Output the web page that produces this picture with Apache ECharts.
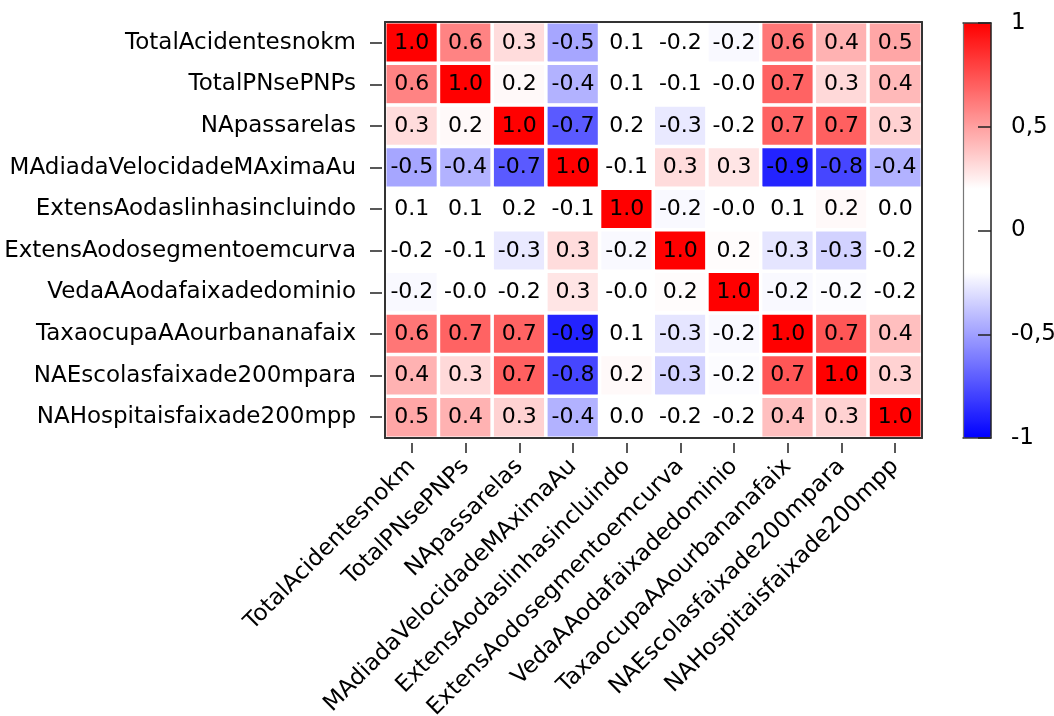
<!DOCTYPE html>
<html>
<head>
<meta charset="utf-8">
<script src="https://cdn.jsdelivr.net/npm/echarts@6/dist/echarts.min.js"></script>
<style>html,body{margin:0;padding:0;background:#fff;}#c{width:1054px;height:716px;}</style>
</head>
<body>
<div id="c"></div>
<script>
const variables = [
  'TotalAcidentesnokm','TotalPNsePNPs','NApassarelas','MAdiadaVelocidadeMAximaAu',
  'ExtensAodaslinhasincluindo','ExtensAodosegmentoemcurva','VedaAAodafaixadedominio',
  'TaxaocupaAAourbananafaix','NAEscolasfaixade200mpara','NAHospitaisfaixade200mpp'
];
const row1  = [1.00, 0.59, 0.31, -0.48, 0.08, -0.17, -0.22, 0.63, 0.44, 0.48];
const row2  = [0.59, 1.00, 0.22, -0.44, 0.10, -0.12, -0.03, 0.69, 0.32, 0.42];
const row3  = [0.31, 0.22, 1.00, -0.72, 0.18, -0.27, -0.19, 0.69, 0.70, 0.34];
const row4  = [-0.48, -0.44, -0.72, 1.00, -0.10, 0.31, 0.28, -0.89, -0.78, -0.44];
const row5  = [0.08, 0.10, 0.18, -0.10, 1.00, -0.22, -0.02, 0.12, 0.22, 0.03];
const row6  = [-0.17, -0.12, -0.27, 0.31, -0.22, 1.00, 0.21, -0.28, -0.34, -0.18];
const row7  = [-0.22, -0.03, -0.19, 0.28, -0.02, 0.21, 1.00, -0.22, -0.21, -0.19];
const row8  = [0.63, 0.69, 0.69, -0.89, 0.12, -0.28, -0.22, 1.00, 0.73, 0.40];
const row9  = [0.44, 0.32, 0.70, -0.78, 0.22, -0.34, -0.21, 0.73, 1.00, 0.34];
const row10 = [0.48, 0.44, 0.34, -0.44, 0.03, -0.18, -0.19, 0.40, 0.34, 1.00];
const matrix = [row1,row2,row3,row4,row5,row6,row7,row8,row9,row10];
const colorTicks = [-1, -0.5, 0, 0.5, 1];

const data = [];
matrix.forEach((r, i) => r.forEach((v, j) => data.push([j, i, v])));

const FONT = 'DejaVu Sans';
const EDGE = {color: '#3a3a3a', width: 1.5};
const BOX = {color: '#333', width: 2};
function frameAxis(gridIndex, position, line) {
  return {type: 'value', gridIndex: gridIndex, position: position, min: 0, max: 1, z: 10, offset: 0,
          axisLine: {show: true, onZero: false, lineStyle: line},
          axisTick: {show: false}, axisLabel: {show: false}, splitLine: {show: false}};
}
const chart = echarts.init(document.getElementById('c'));
chart.setOption({
  animation: false,
  backgroundColor: '#fff',
  grid: [
    {left: 385, top: 22, width: 537, height: 416, show: false, containLabel: false, outerBoundsMode: 'none'},
    {left: 963, top: 23, width: 28, height: 415, show: false, containLabel: false, outerBoundsMode: 'none'}
  ],
  xAxis: [
    {type: 'category', data: variables, gridIndex: 0, position: 'bottom', offset: 5,
     axisLine: {show: false, onZero: false},
     axisTick: {show: true, alignWithLabel: true, length: 10, lineStyle: {color: '#222', width: 1.5}},
     axisLabel: {rotate: 45, margin: 20, color: '#000', fontFamily: FONT, fontSize: 23},
     splitLine: {show: false}, splitArea: {show: false}},
    frameAxis(1, 'bottom', EDGE),
    frameAxis(1, 'top', EDGE),
    frameAxis(0, 'top', BOX),
    frameAxis(0, 'bottom', BOX)
  ],
  yAxis: [
    {type: 'category', data: variables, gridIndex: 0, inverse: true, offset: 3,
     axisLine: {show: false, onZero: false},
     axisTick: {show: true, alignWithLabel: true, length: 12, lineStyle: {color: '#222', width: 1.5}},
     axisLabel: {margin: 26, color: '#000', fontFamily: FONT, fontSize: 23},
     splitLine: {show: false}, splitArea: {show: false}},
    {type: 'value', gridIndex: 1, position: 'right', min: -1, max: 1, interval: 0.5, z: 10,
     axisLine: {show: true, onZero: false, lineStyle: {color: '#222', width: 1.5}},
     axisTick: {show: true, inside: true, length: 13, lineStyle: {color: '#222', width: 1.5}},
     axisLabel: {margin: 20, color: '#000', fontFamily: FONT, fontSize: 23, align: 'left',
                 formatter: v => colorTicks.includes(v) ? String(v).replace('.', ',') : ''},
     splitLine: {show: false}},
    frameAxis(1, 'left', {color: '#777', width: 1.2}),
    frameAxis(0, 'left', BOX),
    frameAxis(0, 'right', BOX)
  ],
  visualMap: {
    type: 'continuous', min: -1, max: 1, calculable: false, orient: 'vertical',
    left: 963, top: 23, itemWidth: 28, itemHeight: 415, padding: 0, text: null, showLabel: false,
    seriesIndex: 0, dimension: 2, z: 2,
    inRange: {color: ['#0000ff','#4040ff','#8080ff','#bfbfff','#ffffff','#ffffff','#ffffff','#ffbfbf','#ff8080','#ff4040','#ff0000']}
  },
  series: [{
    type: 'heatmap', xAxisIndex: 0, yAxisIndex: 0, data: data,
    itemStyle: {borderColor: '#fff', borderWidth: 3.5},
    label: {show: true, color: '#000', fontFamily: FONT, fontSize: 22,
            formatter: p => p.value[2].toFixed(1)},
    emphasis: {disabled: true}
  }]
});
</script>
</body>
</html>
